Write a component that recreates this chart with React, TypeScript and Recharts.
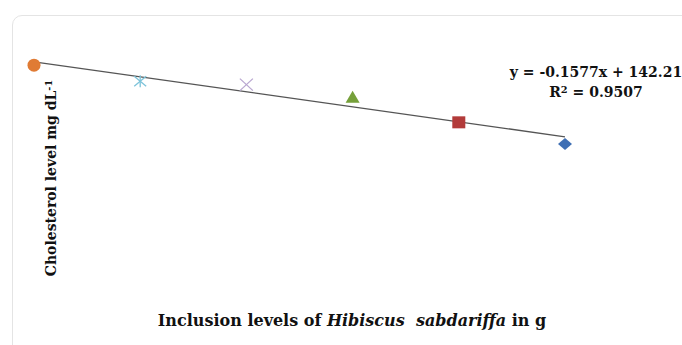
import { Scatter, ScatterChart, XAxis, YAxis } from 'recharts'

// inclusion levels (g) and measured cholesterol (mg/dL)
const levels = [0, 100, 200, 300, 400, 500]
const cholesterol = [138.8, 121.8, 118.3, 105.4, 78.6, 55.9]

// fitted trend line from the figure
const trendSlope = -0.1577
const trendIntercept = 142.21
const trendEnds = [0, 500]

const markerKinds = ['circle', 'asterisk', 'cross', 'triangle', 'square', 'diamond']
const markerColors = ['#e07b34', '#7cc3da', '#b8a6d0', '#76a03a', '#b23b3a', '#3f6fb4']

const serif = '"DejaVu Serif", "Liberation Serif", serif'

function Marker({ cx, cy, kind, color }: { cx: number; cy: number; kind: string; color: string }) {
  if (kind === 'circle') return <circle cx={cx} cy={cy} r={6.5} fill={color} />
  if (kind === 'asterisk')
    return (
      <g stroke={color} strokeWidth={1.3}>
        <line x1={cx - 6} y1={cy - 5} x2={cx + 6} y2={cy + 5} />
        <line x1={cx - 6} y1={cy + 5} x2={cx + 6} y2={cy - 5} />
        <line x1={cx} y1={cy - 6} x2={cx} y2={cy + 6} />
      </g>
    )
  if (kind === 'cross')
    return (
      <g stroke={color} strokeWidth={1.3}>
        <line x1={cx - 6.5} y1={cy - 6} x2={cx + 6.5} y2={cy + 6} />
        <line x1={cx - 6.5} y1={cy + 6} x2={cx + 6.5} y2={cy - 6} />
      </g>
    )
  if (kind === 'triangle')
    return <polygon points={`${cx},${cy - 6} ${cx + 7},${cy + 6} ${cx - 7},${cy + 6}`} fill={color} />
  if (kind === 'square') return <rect x={cx - 6.5} y={cy - 6} width={13} height={12} fill={color} />
  return <polygon points={`${cx},${cy - 6} ${cx + 7},${cy} ${cx},${cy + 6} ${cx - 7},${cy}`} fill={color} />
}

export default function App() {
  const trend = trendEnds.map((x) => ({ x, y: trendSlope * x + trendIntercept }))

  return (
    <div style={{ position: 'relative', width: 682, height: 345, background: '#fff', overflow: 'hidden' }}>
      <style>{'body{margin:0}'}</style>
      <div
        style={{
          position: 'absolute',
          left: 12,
          top: 15,
          width: 680,
          height: 340,
          border: '1px solid #e4e4e4',
          borderRadius: 10,
        }}
      />
      <div style={{ position: 'absolute', left: 0, top: 0 }}>
        <ScatterChart width={682} height={345} margin={{ top: 45, right: 117, left: 34, bottom: 167 }}>
          <XAxis type="number" dataKey="x" domain={[0, 500]} hide />
          <YAxis type="number" dataKey="y" domain={[20, 160]} hide />
          <Scatter
            data={trend}
            line={{ stroke: '#555', strokeWidth: 1.3 }}
            shape={() => <g />}
            isAnimationActive={false}
          />
          {levels.map((level, i) => (
            <Scatter
              key={level}
              data={[{ x: level, y: cholesterol[i] }]}
              isAnimationActive={false}
              shape={(p: any) => <Marker cx={p.cx} cy={p.cy} kind={markerKinds[i]} color={markerColors[i]} />}
            />
          ))}
        </ScatterChart>
      </div>
      <div
        style={{
          position: 'absolute',
          left: 596,
          top: 64,
          transform: 'translateX(-50%)',
          fontFamily: serif,
          fontWeight: 'bold',
          fontSize: 14,
          lineHeight: '17px',
          textAlign: 'center',
          whiteSpace: 'nowrap',
          color: '#111',
        }}
      >
        <div>y = -0.1577x + 142.21</div>
        <div>
          R<span style={{ fontSize: '0.7em', verticalAlign: '0.4em' }}>2</span> = 0.9507
        </div>
      </div>
      <div
        style={{
          position: 'absolute',
          left: 51,
          top: 178,
          transform: 'translate(-50%, -50%) rotate(-90deg)',
          fontFamily: serif,
          fontWeight: 'bold',
          fontSize: 14,
          whiteSpace: 'nowrap',
          color: '#111',
        }}
      >
        Cholesterol level mg dL<span style={{ fontSize: '0.7em', verticalAlign: '0.5em' }}>-1</span>
      </div>
      <div
        style={{
          position: 'absolute',
          left: 352,
          top: 311,
          transform: 'translateX(-50%)',
          fontFamily: serif,
          fontWeight: 'bold',
          fontSize: 16,
          whiteSpace: 'nowrap',
          color: '#111',
        }}
      >
        Inclusion levels of <i>Hibiscus&nbsp; sabdariffa</i> in g
      </div>
    </div>
  )
}
